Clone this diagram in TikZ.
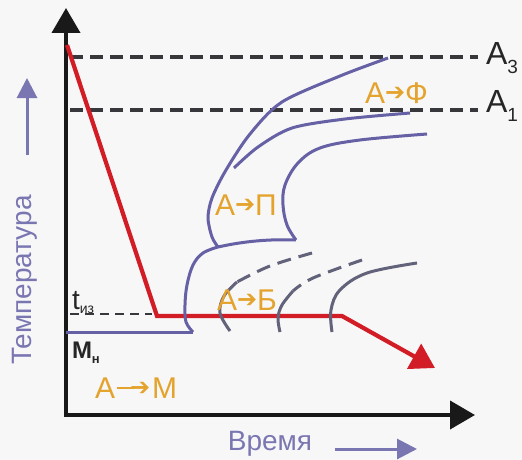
\documentclass[tikz,border=0pt]{standalone}
\usepackage{fontspec}
\setmainfont{Liberation Sans}
\newfontfamily\dingfont{DejaVu Sans}
\usetikzlibrary{arrows.meta}
\definecolor{bgcol}{RGB}{247,247,247}
\definecolor{cred}{RGB}{210,28,38}
\definecolor{ccurve}{RGB}{102,96,165}
\definecolor{cgray}{RGB}{98,98,122}
\definecolor{cdash}{RGB}{55,55,60}
\definecolor{corange}{RGB}{228,163,45}
\definecolor{caxis}{RGB}{122,118,178}
\newcommand{\pfeil}{\raisebox{3pt}{\dingfont\fontsize{24}{24}\selectfont ➔}}
\newcommand{\langpfeil}{\rule[8.9pt]{17pt}{2.2pt}\kern-4pt\pfeil}

\begin{document}
\begin{tikzpicture}[x=1pt, y=-1pt,
        every node/.style={inner sep=0pt, outer sep=0pt},
        axis/.style={line width=4pt, black!90,
                     {Triangle[length=25pt,width=28pt]}-{Triangle[length=25pt,width=28pt]}},
        cool/.style={line width=4.2pt, cred, -{Triangle[length=24pt,width=28pt]}},
        crit/.style={line width=3.2pt, cdash, dash pattern=on 13pt off 7pt},
        cc/.style={line width=3pt, ccurve},
        ccg/.style={line width=3pt, cgray},
        ccd/.style={ccg, dash pattern=on 14pt off 8pt},
        phase/.style={font=\fontsize{30}{30}\selectfont, text=corange, anchor=base west},
        lvl/.style={font=\fontsize{32}{32}\selectfont, text=black!85, anchor=base west},
        axlbl/.style={font=\fontsize{28}{28}\selectfont, text=caxis},
        hint/.style={line width=3pt, caxis, -{Triangle[length=20pt,width=20pt]}}
    ]
    \useasboundingbox (0,0) rectangle (522,460);
    \fill[bgcol] (0,0) rectangle (522,460);

    % axes
    \coordinate (o) at (66,415);
    \coordinate (ytip) at (66,8);
    \coordinate (xtip) at (475,415);
    \draw[axis] (ytip) -- (o) -- (xtip);

    % critical points
    \coordinate (a3l) at (70,57);
    \coordinate (a3r) at (478,57);
    \coordinate (a1l) at (70,110);
    \coordinate (a1r) at (478,110);
    \draw[crit] (a3l) -- (a3r);
    \draw[crit] (a1l) -- (a1r);
    \node[lvl] (a3) at (486,65) {A\raisebox{-9pt}{\fontsize{19}{19}\selectfont 3}};
    \node[lvl] (a1) at (486,112) {A\raisebox{-9pt}{\fontsize{19}{19}\selectfont 1}};

    % isotherm and Mn
    \coordinate (tl) at (70,314);
    \coordinate (tr) at (152,314);
    \draw[crit, line width=2.2pt, dash pattern=on 9pt off 6pt] (tl) -- (tr);
    \node[anchor=base west, font=\fontsize{28}{28}\selectfont, text=black!85] (tiz) at (72,309)
        {t\raisebox{-4pt}{\fontsize{14}{14}\selectfont из}};
    \coordinate (mnl) at (66,332);
    \coordinate (mnr) at (193,332);
    \draw[cc] (mnl) -- (mnr);
    \node[anchor=base west, font=\bfseries\fontsize{24}{24}\selectfont, text=black!85] (mn) at (72,358)
        {M\raisebox{-5pt}{\fontsize{13}{13}\selectfont н}};

    % cooling curve
    \coordinate (r0) at (67,45);
    \coordinate (r1) at (157,316);
    \coordinate (r2) at (342,316);
    \coordinate (r3) at (435,368);
    \draw[cool] (r0) -- (r1) -- (r2) -- (r3);

    % upper C-curves
    \draw[cc] plot[smooth, tension=0.5] coordinates {(388,58) (340,76) (282,102) (250,134)
        (226,170) (212,198) (208,218) (212,237) (218,247)};
    \draw[cc] plot[smooth, tension=0.5] coordinates {(410,113) (345,119) (292,128) (258,147) (234,168)};
    \draw[cc] plot[smooth, tension=0.6] coordinates {(427,134) (360,140) (320,148) (298,163)
        (285,185) (283,205) (287,225) (296,240)};
    \draw[cc] (218,247) .. controls (245,241) and (270,239) .. (296,240);

    % lower C-curves
    \draw[cc] plot[smooth, tension=0.6] coordinates {(218,247) (203,253) (193,265) (187,285)
        (185,305) (186,322) (193,332)};
    \draw[ccd] plot[smooth, tension=0.6] coordinates {(312,253) (270,266) (237,282)};
    \draw[ccg] plot[smooth, tension=0.6] coordinates {(237,282) (224,296) (220,313) (230,331)};
    \draw[ccd] plot[smooth, tension=0.6] coordinates {(362,260) (313,278) (293,291)};
    \draw[ccg] plot[smooth, tension=0.6] coordinates {(293,291) (282,305) (278,318) (280,332)};
    \draw[ccg] plot[smooth, tension=0.6] coordinates {(417,263) (367,273) (340,290) (331,310) (332,332)};

    % phase labels
    \node[phase] (af) at (365,103) {А\pfeil Ф};
    \node[phase] (ap) at (215,215) {А\pfeil П};
    \node[phase] (ab) at (217,310) {А\pfeil Б};
    \node[phase] (am) at (95,398) {А\kern2pt\langpfeil\kern2pt М};

    % axis labels
    \node[axlbl, rotate=90] (Tlbl) at (25,280) {Температура};
    \coordinate (ua0) at (27,155);
    \coordinate (ua1) at (27,78);
    \draw[hint] (ua0) -- (ua1);
    \node[axlbl] (tlbl) at (270,444) {Время};
    \coordinate (ra0) at (335,449);
    \coordinate (ra1) at (417,449);
    \draw[hint] (ra0) -- (ra1);
\end{tikzpicture}
\end{document}
